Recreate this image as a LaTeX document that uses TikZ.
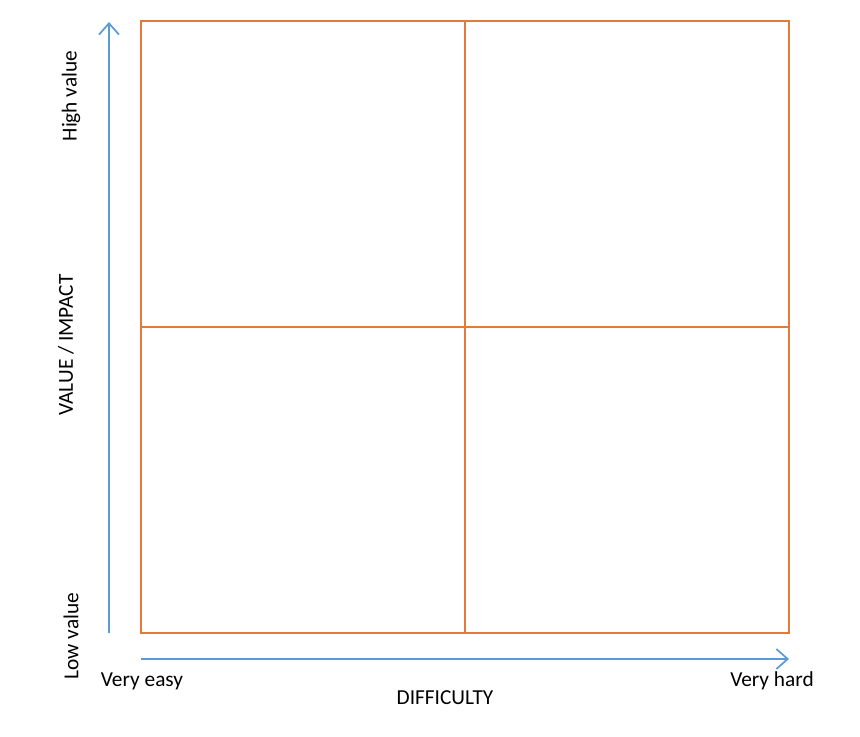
\documentclass[tikz,border=0pt]{standalone}
\usepackage{fontspec}
\setmainfont{Carlito}
\usetikzlibrary{arrows.meta}
\definecolor{gridorange}{HTML}{E27B39}
\definecolor{axisblue}{HTML}{5B9BD5}
\begin{document}
\begin{tikzpicture}[x=0.75pt,y=-0.75pt,
  gridline/.style={draw=gridorange,line width=1.5pt},
  axisline/.style={draw=axisblue,line width=1.4pt,-{Straight Barb[length=8.5pt,width=15pt,line width=1.3pt]}},
  lbl/.style={font=\fontsize{16}{19}\selectfont,inner sep=0pt}]
\useasboundingbox (0,0) rectangle (860,736);
% grid
\coordinate (tl) at (141,21);
\coordinate (br) at (789,633);
\draw[gridline] (tl) rectangle (br);
\coordinate (tm) at (465,21);
\coordinate (bm) at (465,633);
\coordinate (lm) at (141,327);
\coordinate (rm) at (789,327);
\draw[gridline] (tm) -- (bm);
\draw[gridline] (lm) -- (rm);
% axes
\coordinate (vs) at (109,633);
\coordinate (ve) at (109,22);
\coordinate (hs) at (141,659);
\coordinate (he) at (789,659);
\draw[axisline] (vs) -- (ve);
\draw[axisline] (hs) -- (he);
% labels
\node[lbl,rotate=90] (hv) at (71,96) {High value};
\node[lbl,rotate=90] (lv) at (71,636) {Low value};
\node[lbl,rotate=90] (vi) at (66,345) {VALUE / IMPACT};
\node[lbl] (ve1) at (142,681) {Very easy};
\node[lbl] (vh) at (772,681) {Very hard};
\node[lbl] (df) at (445,698) {DIFFICULTY};
\end{tikzpicture}
\end{document}
